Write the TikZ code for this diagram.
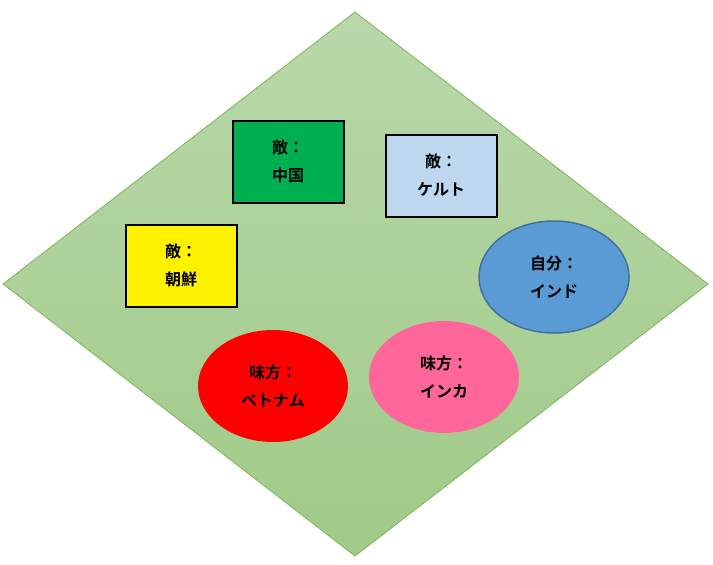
\documentclass[tikz,border=0pt]{standalone}
\usepackage{fontspec}
\newfontfamily\jpfont{Noto Sans CJK JP}[BoldFont={* Bold}]
\usepackage{tikz}
\usetikzlibrary{shapes.geometric}
\definecolor{fieldtop}{HTML}{B9D8AA}
\definecolor{fieldbot}{HTML}{A0CA88}
\definecolor{fieldline}{HTML}{7EB45E}
\definecolor{enemygreen}{HTML}{00B050}
\definecolor{enemyblue}{HTML}{BDD7EE}
\definecolor{selfblue}{HTML}{5B9BD5}
\definecolor{selfline}{HTML}{41719C}
\definecolor{allypink}{HTML}{FF6699}

\begin{document}
\begin{tikzpicture}[x=1pt,y=-1pt,
    label text/.style={font=\jpfont\bfseries\fontsize{16}{28}\selectfont,align=center,text=black},
    enemy/.style={label text,draw=black,line width=2pt,minimum width=111pt,minimum height=82pt,inner sep=0pt},
    ally/.style={label text,ellipse,minimum width=150pt,minimum height=112pt,inner sep=0pt}]
    \useasboundingbox (0,0) rectangle (713,565);
    % field
    \shade[top color=fieldtop,bottom color=fieldbot,draw=fieldline,line width=0.8pt]
      (355,12) -- (708,284) -- (355,556) -- (3,284) -- cycle;
    % enemies
    \node[enemy,fill=enemygreen] (china) at (288,161.5) {敵：\\中国};
    \node[enemy,fill=enemyblue] (celt) at (441,175.5) {敵：\\ケルト};
    \node[enemy,fill=yellow] (korea) at (181,265.5) {敵：\\朝鮮};
    % self
    \node[ally,fill=selfblue,draw=selfline,line width=1.5pt] (india) at (554,277) {自分：\\インド};
    % allies
    \node[ally,fill=allypink] (inca) at (444,377) {味方：\\インカ};
    \node[ally,fill=red] (vietnam) at (273,386) {味方：\\ベトナム};
\end{tikzpicture}
\end{document}
